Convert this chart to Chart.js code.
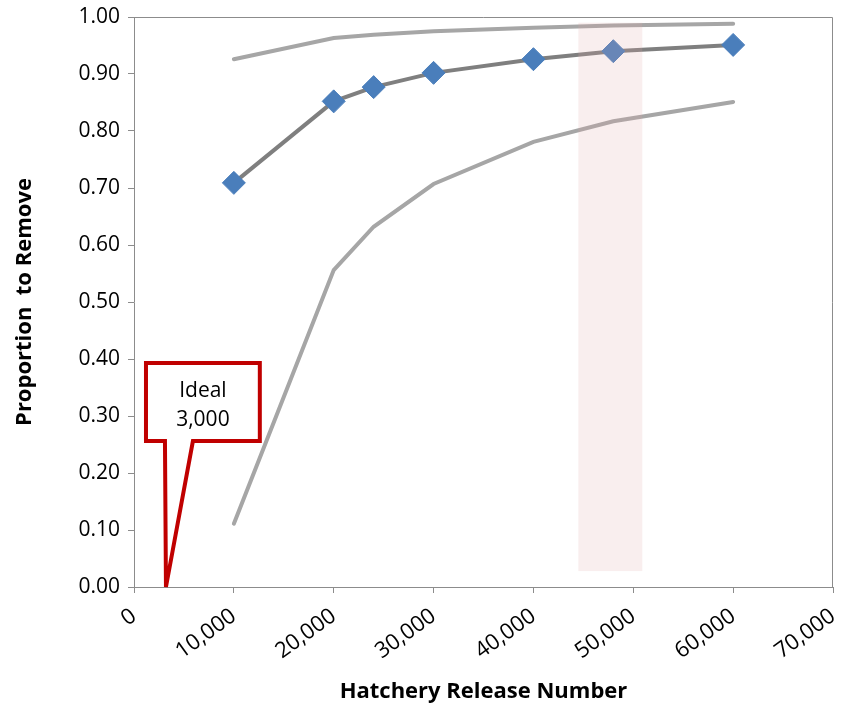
<!DOCTYPE html>
<html>
<head>
<meta charset="utf-8">
<script src="https://cdn.jsdelivr.net/npm/chart.js@4.4.1/dist/chart.umd.min.js"></script>
<style>
  html, body { margin: 0; padding: 0; background: #fff; }
  #wrap { width: 848px; height: 713px; }
</style>
</head>
<body>
<div id="wrap"><canvas id="removeChart" width="848" height="713"></canvas></div>
<script>
const releaseNumbers = [10000, 20000, 24000, 30000, 40000, 48000, 60000];
const proportionMean = [0.709, 0.852, 0.877, 0.902, 0.926, 0.940, 0.951];
const proportionUpper = [0.926, 0.963, 0.969, 0.975, 0.981, 0.985, 0.988];
const proportionLower = [0.111, 0.556, 0.632, 0.707, 0.781, 0.817, 0.851];
const xTicks = [0, 10000, 20000, 30000, 40000, 50000, 60000, 70000];
const yTicks = [0, 0.1, 0.2, 0.3, 0.4, 0.5, 0.6, 0.7, 0.8, 0.9, 1.0];
const shadedRange = [44500, 50900];
const shadedY = [0.028, 0.99];
const idealRelease = 3000;

const toPoints = (ys) => releaseNumbers.map((x, i) => ({ x: x, y: ys[i] }));
const fmt = (v) => v.toLocaleString('en-US');

const overlays = {
  id: 'overlays',
  beforeDatasetsDraw(chart) {
    const { ctx, chartArea: a } = chart;
    ctx.save();
    ctx.strokeStyle = '#8c8c8c';
    ctx.lineWidth = 1;
    ctx.beginPath();
    ctx.moveTo(a.left, a.top + 0.5);
    ctx.lineTo(a.right - 0.5, a.top + 0.5);
    ctx.lineTo(a.right - 0.5, a.bottom);
    ctx.stroke();
    ctx.restore();
  },
  afterDatasetsDraw(chart) {
    const { ctx, scales: { x, y } } = chart;
    ctx.save();
    // shaded band
    const bx0 = x.getPixelForValue(shadedRange[0]);
    const bx1 = x.getPixelForValue(shadedRange[1]);
    const by0 = y.getPixelForValue(shadedY[1]);
    const by1 = y.getPixelForValue(shadedY[0]);
    ctx.fillStyle = 'rgba(225, 170, 170, 0.2)';
    ctx.fillRect(bx0, by0, bx1 - bx0, by1 - by0);

    // callout
    const l = x.getPixelForValue(1200), r = x.getPixelForValue(12600);
    const t = y.getPixelForValue(0.393), b = y.getPixelForValue(0.256);
    const p0 = x.getPixelForValue(3100), p1 = x.getPixelForValue(5900);
    const tipX = x.getPixelForValue(idealRelease + 200), tipY = y.getPixelForValue(0);
    ctx.beginPath();
    ctx.moveTo(l, t);
    ctx.lineTo(r, t);
    ctx.lineTo(r, b);
    ctx.lineTo(p1, b);
    ctx.lineTo(tipX, tipY);
    ctx.lineTo(p0, b);
    ctx.lineTo(l, b);
    ctx.closePath();
    ctx.fillStyle = '#fff';
    ctx.fill();
    ctx.lineJoin = 'miter';
    ctx.lineWidth = 4;
    ctx.strokeStyle = '#c00000';
    ctx.stroke();
    ctx.fillStyle = '#000';
    ctx.font = '21px "Open Sans", sans-serif';
    ctx.textAlign = 'center';
    ctx.textBaseline = 'middle';
    const cx = (l + r) / 2;
    ctx.fillText('Ideal', cx, t + 28);
    ctx.fillText(fmt(idealRelease), cx, t + 57);
    ctx.restore();
  }
};

new Chart(document.getElementById('removeChart').getContext('2d'), {
  type: 'line',
  data: {
    datasets: [
      {
        label: 'Upper',
        data: toPoints(proportionUpper),
        borderColor: '#a6a6a6',
        borderWidth: 4,
        pointRadius: 0,
        tension: 0,
        borderCapStyle: 'round'
      },
      {
        label: 'Lower',
        data: toPoints(proportionLower),
        borderColor: '#a6a6a6',
        borderWidth: 4,
        pointRadius: 0,
        tension: 0,
        borderCapStyle: 'round'
      },
      {
        label: 'Proportion',
        data: toPoints(proportionMean),
        borderColor: '#7f7f7f',
        borderWidth: 4,
        pointStyle: 'rectRot',
        pointRadius: 11.5,
        pointBackgroundColor: '#4a7ebb',
        pointBorderColor: '#4a7ebb',
        pointBorderWidth: 1,
        tension: 0
      }
    ]
  },
  options: {
    responsive: false,
    animation: false,
    layout: { padding: { top: 17, right: 15, left: 0, bottom: 0 } },
    plugins: { legend: { display: false }, tooltip: { enabled: false } },
    scales: {
      x: {
        type: 'linear',
        min: 0,
        max: 70000,
        afterBuildTicks: (s) => { s.ticks = xTicks.map((v) => ({ value: v })); },
        afterFit: (s) => { s.height = 126; s.paddingLeft = 0; s.paddingRight = 0; },
        border: { display: true, color: '#8c8c8c' },
        grid: { drawOnChartArea: false, drawTicks: true, tickLength: 6, color: '#8c8c8c' },
        ticks: {
          minRotation: 36,
          maxRotation: 36,
          color: '#000',
          font: { family: 'Open Sans', size: 22 },
          padding: 10,
          callback: (v) => fmt(v)
        },
        title: {
          display: true,
          text: 'Hatchery Release Number',
          color: '#000',
          font: { family: 'Open Sans', size: 22, weight: 'bold' },
          padding: { top: 4, bottom: 8 }
        }
      },
      y: {
        min: 0,
        max: 1,
        afterBuildTicks: (s) => { s.ticks = yTicks.map((v) => ({ value: v })); },
        afterFit: (s) => { s.width = 134; s.paddingTop = 0; s.paddingBottom = 0; },
        border: { display: true, color: '#8c8c8c' },
        grid: { drawOnChartArea: false, drawTicks: true, tickLength: 6, color: '#8c8c8c' },
        ticks: {
          color: '#000',
          font: { family: 'Open Sans', size: 21 },
          padding: 8,
          callback: (v) => v.toFixed(2)
        },
        title: {
          display: true,
          text: 'Proportion  to Remove',
          color: '#000',
          font: { family: 'Open Sans', size: 22, weight: 'bold' },
          padding: { top: 12, bottom: 0 }
        }
      }
    }
  },
  plugins: [overlays]
});
</script>
</body>
</html>
